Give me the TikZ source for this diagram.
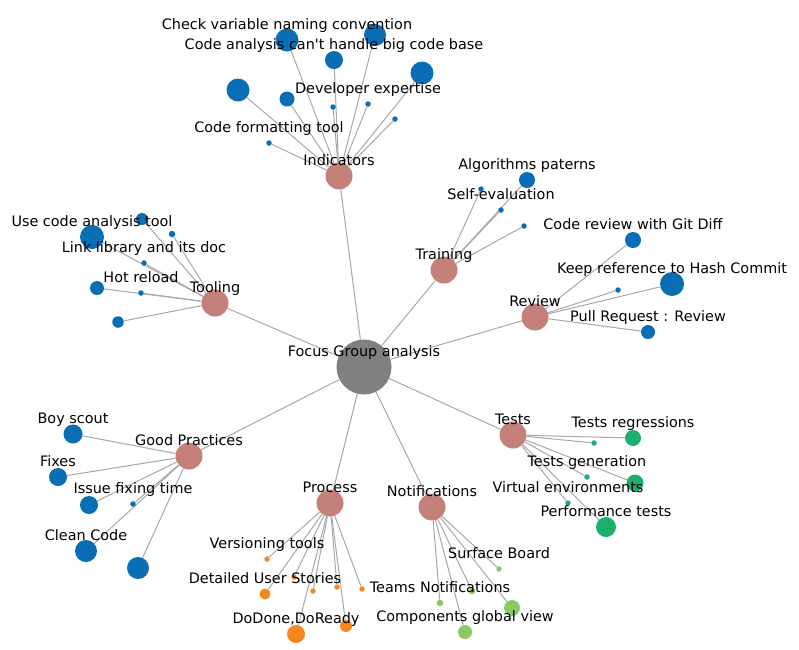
\documentclass[tikz,border=0pt]{standalone}
\usepackage{fontspec}
\setmainfont{DejaVu Sans}
\usepackage{xcolor}
\usepackage{tikz}
\usetikzlibrary{backgrounds}

\definecolor{rootgray}{HTML}{808080}
\definecolor{hubrose}{HTML}{C4817B}
\definecolor{leafblue}{HTML}{0A6EB4}
\definecolor{leaforange}{HTML}{F6871F}
\definecolor{leaflime}{HTML}{8CC963}
\definecolor{leafteal}{HTML}{1DAF6E}
\definecolor{linkgray}{HTML}{A8A8A8}

\begin{document}
\begin{tikzpicture}[x=1pt, y=-1pt,
    dot/.style={circle, inner sep=0pt, draw=none},
    hub/.style={dot, fill=hubrose, minimum size=27pt},
    blue/.style={dot, fill=leafblue, minimum size=#1},
    orange/.style={dot, fill=leaforange, minimum size=#1},
    lime/.style={dot, fill=leaflime, minimum size=#1},
    teal/.style={dot, fill=leafteal, minimum size=#1},
    lbl/.style={anchor=base, inner sep=0pt, text=black, font=\fontsize{14.4pt}{17pt}\selectfont},
    link/.style={draw=linkgray, line width=1pt}]
        \useasboundingbox (0,0) rectangle (799,649);

        % Root
        \node[dot, fill=rootgray, minimum size=55pt] (root) at (364, 367) {};

        % Categories
        \node[hub] (ind) at (339, 176) {};
        \node[hub] (too) at (215, 303) {};
        \node[hub] (tra) at (444, 270) {};
        \node[hub] (rev) at (535, 317) {};
        \node[hub] (gp) at (189, 456) {};
        \node[hub] (pro) at (330, 503) {};
        \node[hub] (noti) at (432, 507) {};
        \node[hub] (tes) at (513, 435) {};

        % Indicators
        \node[blue=23pt] (ind1) at (287, 40) {};
        \node[blue=22pt] (ind2) at (375, 35) {};
        \node[blue=18pt] (ind3) at (334, 60) {};
        \node[blue=23pt] (ind4) at (422, 73) {};
        \node[blue=23pt] (ind5) at (238, 90) {};
        \node[blue=15pt] (ind6) at (287, 99) {};
        \node[blue=5.5pt] (ind7) at (333, 107) {};
        \node[blue=5.5pt] (ind8) at (368, 104) {};
        \node[blue=5.5pt] (ind9) at (395, 119) {};
        \node[blue=5.5pt] (ind10) at (269, 143) {};

        % Tooling
        \node[blue=12pt] (too1) at (142, 219) {};
        \node[blue=24pt] (too2) at (92, 237) {};
        \node[blue=6.5pt] (too3) at (172, 234) {};
        \node[blue=5.5pt] (too4) at (144, 263) {};
        \node[blue=14pt] (too5) at (97, 288) {};
        \node[blue=5.5pt] (too6) at (141, 293) {};
        \node[blue=11.5pt] (too7) at (118, 322) {};

        % Training
        \node[blue=16pt] (tra1) at (527, 180) {};
        \node[blue=5.5pt] (tra2) at (481, 189) {};
        \node[blue=5.5pt] (tra3) at (501, 210) {};
        \node[blue=5.5pt] (tra4) at (524, 226) {};

        % Review
        \node[blue=16pt] (rev1) at (633, 240) {};
        \node[blue=5.5pt] (rev2) at (618, 290) {};
        \node[blue=24pt] (rev3) at (672, 284) {};
        \node[blue=14pt] (rev4) at (648, 332) {};

        % Good Practices
        \node[blue=19pt] (gp1) at (73, 434) {};
        \node[blue=18pt] (gp2) at (58, 477) {};
        \node[blue=18pt] (gp3) at (89, 505) {};
        \node[blue=5.5pt] (gp4) at (133, 504) {};
        \node[blue=22pt] (gp5) at (86, 551) {};
        \node[blue=22pt] (gp6) at (138, 568) {};

        % Process
        \node[orange=5.5pt] (pro1) at (267, 559) {};
        \node[orange=5.5pt] (pro2) at (294, 577) {};
        \node[orange=11pt] (pro3) at (265, 594) {};
        \node[orange=5.5pt] (pro4) at (313, 591) {};
        \node[orange=5.5pt] (pro5) at (337, 587) {};
        \node[orange=5.5pt] (pro6) at (362, 589) {};
        \node[orange=18pt] (pro7) at (296, 634) {};
        \node[orange=12pt] (pro8) at (346, 626) {};

        % Notifications
        \node[lime=5.5pt] (noti1) at (499, 569) {};
        \node[lime=6.5pt] (noti2) at (472, 591) {};
        \node[lime=6.5pt] (noti3) at (440, 603) {};
        \node[lime=16pt] (noti4) at (512, 608) {};
        \node[lime=14pt] (noti5) at (465, 632) {};

        % Tests
        \node[teal=16pt] (tes1) at (633, 438) {};
        \node[teal=5.5pt] (tes2) at (594, 443) {};
        \node[teal=5.5pt] (tes3) at (587, 477) {};
        \node[teal=17pt] (tes4) at (635, 483) {};
        \node[teal=5.5pt] (tes5) at (568, 503) {};
        \node[teal=20pt] (tes6) at (606, 527) {};

        % Labels
        \node[lbl] (l-root) at ([yshift=11pt]root.center) {Focus Group analysis};
        \node[lbl] (l-ind) at ([yshift=11pt]ind.center) {Indicators};
        \node[lbl] (l-too) at ([yshift=11pt]too.center) {Tooling};
        \node[lbl] (l-tra) at ([yshift=11pt]tra.center) {Training};
        \node[lbl] (l-rev) at ([yshift=11pt]rev.center) {Review};
        \node[lbl] (l-gp) at ([yshift=11pt]gp.center) {Good Practices};
        \node[lbl] (l-pro) at ([yshift=11pt]pro.center) {Process};
        \node[lbl] (l-noti) at ([yshift=11pt]noti.center) {Notifications};
        \node[lbl] (l-tes) at ([yshift=11pt]tes.center) {Tests};

        \node[lbl] (l-ind1) at ([yshift=11pt]ind1.center) {Check variable naming convention};
        \node[lbl] (l-ind3) at ([yshift=11pt]ind3.center) {Code analysis can\textquotesingle t handle big code base};
        \node[lbl] (l-ind8) at ([yshift=11pt]ind8.center) {Developer expertise};
        \node[lbl] (l-ind10) at ([yshift=11pt]ind10.center) {Code formatting tool};
        \node[lbl] (l-too2) at ([yshift=11pt]too2.center) {Use code analysis tool};
        \node[lbl] (l-too4) at ([yshift=11pt]too4.center) {Link library and its doc};
        \node[lbl] (l-too6) at ([yshift=11pt]too6.center) {Hot reload};
        \node[lbl] (l-tra1) at ([yshift=11pt]tra1.center) {Algorithms paterns};
        \node[lbl] (l-tra3) at ([yshift=11pt]tra3.center) {Self-evaluation};
        \node[lbl] (l-rev1) at ([yshift=11pt]rev1.center) {Code review with Git Diff};
        \node[lbl] (l-rev3) at ([yshift=11pt]rev3.center) {Keep reference to Hash Commit};
        \node[lbl] (l-rev4) at ([yshift=11pt]rev4.center) {Pull Request : Review};
        \node[lbl] (l-gp1) at ([yshift=11pt]gp1.center) {Boy scout};
        \node[lbl] (l-gp2) at ([yshift=11pt]gp2.center) {Fixes};
        \node[lbl] (l-gp4) at ([yshift=11pt]gp4.center) {Issue fixing time};
        \node[lbl] (l-gp5) at ([yshift=11pt]gp5.center) {Clean Code};
        \node[lbl] (l-pro1) at ([yshift=11pt]pro1.center) {Versioning tools};
        \node[lbl] (l-pro3) at ([yshift=11pt]pro3.center) {Detailed User Stories};
        \node[lbl] (l-pro7) at ([yshift=11pt]pro7.center) {DoDone,DoReady};
        \node[lbl] (l-noti1) at ([yshift=11pt]noti1.center) {Surface Board};
        \node[lbl] (l-noti3) at ([yshift=11pt]noti3.center) {Teams Notifications};
        \node[lbl] (l-noti5) at ([yshift=11pt]noti5.center) {Components global view};
        \node[lbl] (l-tes1) at ([yshift=11pt]tes1.center) {Tests regressions};
        \node[lbl] (l-tes3) at ([yshift=11pt]tes3.center) {Tests generation};
        \node[lbl] (l-tes5) at ([yshift=11pt]tes5.center) {Virtual environments};
        \node[lbl] (l-tes6) at ([yshift=11pt]tes6.center) {Performance tests};

        % Links (behind the circles)
        \begin{pgfonlayer}{background}
        \foreach \c in {ind, too, tra, rev, gp, pro, noti, tes}
            \draw[link] (root) -- (\c);
        \foreach \i in {1,...,10}
            \draw[link] (ind) -- (ind\i);
        \foreach \i in {1,...,7}
            \draw[link] (too) -- (too\i);
        \foreach \i in {1,...,4}
            \draw[link] (tra) -- (tra\i);
        \foreach \i in {1,...,4}
            \draw[link] (rev) -- (rev\i);
        \foreach \i in {1,...,6}
            \draw[link] (gp) -- (gp\i);
        \foreach \i in {1,...,8}
            \draw[link] (pro) -- (pro\i);
        \foreach \i in {1,...,5}
            \draw[link] (noti) -- (noti\i);
        \foreach \i in {1,...,6}
            \draw[link] (tes) -- (tes\i);
        \end{pgfonlayer}
    \end{tikzpicture}
\end{document}
